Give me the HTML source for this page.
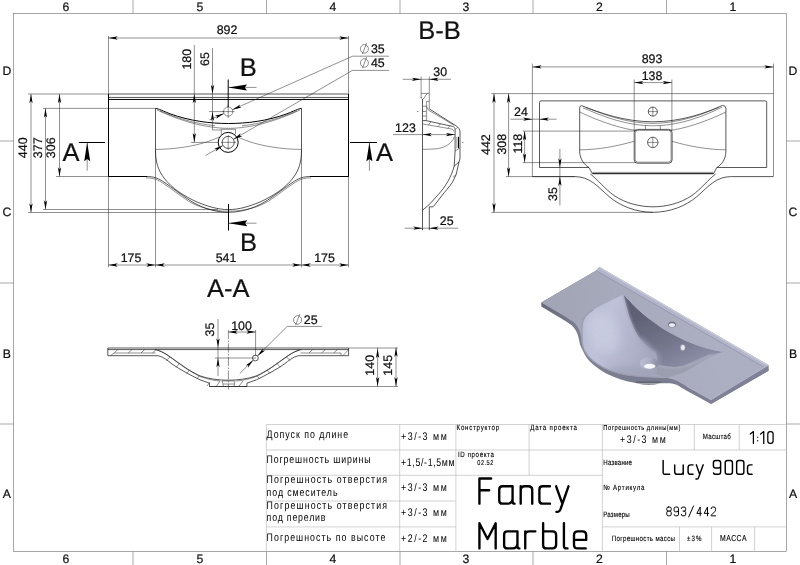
<!DOCTYPE html>
<html><head><meta charset="utf-8"><title>Lucy 900c</title>
<style>
html,body{margin:0;padding:0;background:#fff;}
svg{display:block;font-family:"Liberation Sans",sans-serif;will-change:transform;text-rendering:geometricPrecision;}
.t{stroke:#222;stroke-width:.5;fill:none}
.g{stroke:#b4b4b4;stroke-width:.6;fill:none}
.fr{stroke:#6e6e6e;stroke-width:.6;fill:none}
.c{stroke:#111;stroke-width:.7;fill:none}
.k{stroke:#000;stroke-width:1;fill:none}
.a{fill:#000;stroke:none}
text{fill:#111;stroke:#111;stroke-width:.22px}
.gs{font-family:"Liberation Sans",sans-serif;fill:#000;stroke:none}
.gs2{font-family:"Liberation Sans",sans-serif;fill:#000;stroke:#000;stroke-width:.12px}
.mono{fill:none;stroke:#000;stroke-linecap:round;stroke-linejoin:round}
</style></head><body>
<svg width="800" height="565" viewBox="0 0 800 565">
<rect x="0" y="0" width="800" height="565" fill="#fff"/>
<g id="frame">
<rect class="fr" x="13.5" y="13.5" width="773" height="538"/>
<path class="fr" d="M133,0L133,13.5"/>
<path class="fr" d="M133,551.5L133,565"/>
<path class="fr" d="M266.5,0L266.5,13.5"/>
<path class="fr" d="M266.5,551.5L266.5,565"/>
<path class="fr" d="M400,0L400,13.5"/>
<path class="fr" d="M400,551.5L400,565"/>
<path class="fr" d="M533,0L533,13.5"/>
<path class="fr" d="M533,551.5L533,565"/>
<path class="fr" d="M666.5,0L666.5,13.5"/>
<path class="fr" d="M666.5,551.5L666.5,565"/>
<path class="fr" d="M0,141L13.5,141"/>
<path class="fr" d="M786.5,141L800,141"/>
<path class="fr" d="M0,283L13.5,283"/>
<path class="fr" d="M786.5,283L800,283"/>
<path class="fr" d="M0,424L13.5,424"/>
<path class="fr" d="M786.5,424L800,424"/>
<text x="66" y="10.7" font-size="12.2" text-anchor="middle" >6</text>
<text x="66" y="562.6" font-size="12.2" text-anchor="middle" >6</text>
<text x="200" y="10.7" font-size="12.2" text-anchor="middle" >5</text>
<text x="200" y="562.6" font-size="12.2" text-anchor="middle" >5</text>
<text x="333" y="10.7" font-size="12.2" text-anchor="middle" >4</text>
<text x="333" y="562.6" font-size="12.2" text-anchor="middle" >4</text>
<text x="466" y="10.7" font-size="12.2" text-anchor="middle" >3</text>
<text x="466" y="562.6" font-size="12.2" text-anchor="middle" >3</text>
<text x="599.5" y="10.7" font-size="12.2" text-anchor="middle" >2</text>
<text x="599.5" y="562.6" font-size="12.2" text-anchor="middle" >2</text>
<text x="733" y="10.7" font-size="12.2" text-anchor="middle" >1</text>
<text x="733" y="562.6" font-size="12.2" text-anchor="middle" >1</text>
<text x="6.9" y="74.5" font-size="12.2" text-anchor="middle" >D</text>
<text x="793" y="74.5" font-size="12.2" text-anchor="middle" >D</text>
<text x="6.9" y="215.5" font-size="12.2" text-anchor="middle" >C</text>
<text x="793" y="215.5" font-size="12.2" text-anchor="middle" >C</text>
<text x="6.9" y="357.5" font-size="12.2" text-anchor="middle" >B</text>
<text x="793" y="357.5" font-size="12.2" text-anchor="middle" >B</text>
<text x="6.9" y="498.3" font-size="12.2" text-anchor="middle" >A</text>
<text x="793" y="498.3" font-size="12.2" text-anchor="middle" >A</text>
</g>
<g id="topview">
<path class="t" d="M28,94L108.5,94"/>
<path class="t" d="M43,108.4L155.5,108.4"/>
<path class="t" d="M56,176.5L108.5,176.5"/>
<path class="t" d="M43,209.5L218,209.5"/>
<path class="t" d="M28,212.5L228.5,212.5"/>
<path class="t" d="M108.5,176.5L108.5,267.3"/>
<path class="t" d="M155.5,150L155.5,267.3"/>
<path class="t" d="M301.5,150L301.5,267.3"/>
<path class="t" d="M348.5,176.5L348.5,267.3"/>
<path class="t" d="M108.5,36L108.5,94"/>
<path class="t" d="M348.5,36L348.5,94"/>
<path class="c" d="M108.5,94H348.5V176.5H311 M146,176.5H108.5V94" />
<path class="c" d="M146,176.5C154,176.5 158,178 165,182.8C172,187.5 180,194 189.5,200.2C198,205.7 212,212.3 228.5,212.3" />
<path class="c" d="M311,176.5C303,176.5 299,178 292,182.8C285,187.5 277,194 267.5,200.2C259,205.7 245,212.3 228.5,212.3" />
<path class="t" d="M146,177.9C153.5,177.9 157.5,179.4 164.3,184C171.3,188.7 179.3,195.2 188.8,201.3C197.5,206.6 211,211.2 228.5,211.2" />
<path class="t" d="M311,177.9C303.5,177.9 299.5,179.4 292.7,184C285.7,188.7 277.7,195.2 268.2,201.3C259.5,206.6 246,211.2 228.5,211.2" />
<path class="k" d="M310,176.5H348.5 M108.5,176.5H147" />
<path class="k" d="M108.5,94L108.5,176.5"/>
<path class="k" d="M348.5,94L348.5,176.5"/>
<path class="c" d="M108.5,97.45L348.5,97.45"/>
<path class="k" d="M108.5,99.45L348.5,99.45"/>
<path class="c" d="M155.5,108.4 V150 C155.5,162 158,170 164,178 C172,188.5 184,196 197,202 C208,206.5 218,209.6 228.5,209.6 C239,209.6 249,206.5 260,202 C273,196 285,188.5 293,178 C299,170 301.5,162 301.5,150 V108.4" />
<path class="k" d="M155.5,108.4 C157,108.4 160,109.6 170,113.8 C190,121 210,123.5 228.5,123.5 C247,123.5 267,121 287,113.8 C297,109.6 300,108.4 301.5,108.4" />
<path class="t" d="M157,110 C170,116 190,124 210,126.8 C218,128 222,128.3 228.5,128.3 C235,128.3 239,128 247,126.8 C267,124 287,116 300,110" />
<path class="t" d="M160,110.8 C175,117.5 195,123.8 215,125.7 M242,125.7 C262,123.8 282,117.5 297,110.8" />
<path class="t" d="M155.5,149.4 C175,149.4 195,146 208,141.5 C213,139.7 216,138.5 219.5,137" />
<path class="t" d="M301.5,149.4 C282,149.4 262,146 249,141.5 C244,139.7 241,138.5 237.5,137" />
<circle class="k" cx="228.2" cy="142.4" r="10"/>
<circle class="c" cx="228.2" cy="142.4" r="6.05"/>
<path class="t" d="M228.2,135L228.2,150"/>
<path class="t" d="M221,142.4L236,142.4"/>
<path class="t" d="M221.3,129.3V134.5 M235.5,129.3V134.5 M221.3,129.3H235.5" />
<circle class="t" cx="228.2" cy="111.6" r="4.6"/>
<path class="t" d="M222,111.6L234.5,111.6"/>
<path class="k" d="M228.2,79.5L228.2,107"/>
<path class="t" d="M228.2,105L228.2,118"/>
<path class="t" d="M228.2,87.4L256.5,87.4"/>
<polygon class="a" points="228.2,87.4 247,84.4 244.8,87.4 247,90.4"/>
<text x="248.3" y="75.5" font-size="25.5" text-anchor="middle"  stroke="none">B</text>
<path class="k" d="M228.5,204L228.5,230.5"/>
<path class="t" d="M228.5,223.2L256.5,223.2"/>
<polygon class="a" points="228.5,223.2 247.3,220.2 245.1,223.2 247.3,226.2"/>
<text x="248.5" y="250.7" font-size="25.5" text-anchor="middle"  stroke="none">B</text>
<path class="k" d="M78.75,142.5L105,142.5"/>
<path class="t" d="M87.2,143L87.2,170.7"/>
<polygon class="a" points="87.2,142.5 90.2,161.3 87.2,159.1 84.2,161.3"/>
<text x="71" y="161.3" font-size="25.5" text-anchor="middle"  stroke="none">A</text>
<path class="k" d="M350.1,142.5L377,142.5"/>
<path class="t" d="M369.4,143L369.4,170.8"/>
<polygon class="a" points="369.4,142.5 372.4,161.3 369.4,159.1 366.4,161.3"/>
<text x="384.4" y="160.9" font-size="25.5" text-anchor="middle"  stroke="none">A</text>
<path class="t" d="M108.5,38L348.5,38"/>
<polygon class="a" points="108.5,38 117.8,36.35 115.6,38 117.8,39.65"/>
<polygon class="a" points="348.5,38 339.2,39.65 341.4,38 339.2,36.35"/>
<text x="227" y="34.3" font-size="12.4" text-anchor="middle" >892</text>
<path class="t" d="M194.3,45L194.3,142.4"/>
<polygon class="a" points="194.3,94 195.95,103.3 194.3,101.1 192.65,103.3"/>
<polygon class="a" points="194.3,142.4 192.65,133.1 194.3,135.3 195.95,133.1"/>
<path class="t" d="M191,142.4L219,142.4"/>
<text x="191" y="59.2" font-size="12.4" text-anchor="middle" transform="rotate(-90 191 59.2)" >180</text>
<path class="t" d="M212.5,48L212.5,130"/>
<polygon class="a" points="212.5,94 210.85,84.7 212.5,86.9 214.15,84.7"/>
<polygon class="a" points="212.5,111.6 214.15,120.9 212.5,118.7 210.85,120.9"/>
<path class="t" d="M209,111.6L224,111.6"/>
<path class="t" d="M212.5,130L221.3,130"/>
<text x="209.3" y="59" font-size="12.4" text-anchor="middle" transform="rotate(-90 209.3 59)" >65</text>
<path class="t" d="M31,94L31,212.5"/>
<polygon class="a" points="31,94 32.65,103.3 31,101.1 29.35,103.3"/>
<polygon class="a" points="31,212.5 29.35,203.2 31,205.4 32.65,203.2"/>
<path class="t" d="M45.5,108.4L45.5,209.5"/>
<polygon class="a" points="45.5,108.4 47.15,117.7 45.5,115.5 43.85,117.7"/>
<polygon class="a" points="45.5,209.5 43.85,200.2 45.5,202.4 47.15,200.2"/>
<path class="t" d="M59.5,94L59.5,176.5"/>
<polygon class="a" points="59.5,94 61.15,103.3 59.5,101.1 57.85,103.3"/>
<polygon class="a" points="59.5,176.5 57.85,167.2 59.5,169.4 61.15,167.2"/>
<text x="27.5" y="147.8" font-size="12.4" text-anchor="middle" transform="rotate(-90 27.5 147.8)" >440</text>
<text x="41.8" y="147.8" font-size="12.4" text-anchor="middle" transform="rotate(-90 41.8 147.8)" >377</text>
<text x="55.5" y="147.8" font-size="12.4" text-anchor="middle" transform="rotate(-90 55.5 147.8)" >306</text>
<path class="t" d="M108.5,265L348.5,265"/>
<polygon class="a" points="108.5,265 117.8,263.35 115.6,265 117.8,266.65"/>
<polygon class="a" points="155.5,265 146.2,266.65 148.4,265 146.2,263.35"/>
<polygon class="a" points="155.5,265 164.8,263.35 162.6,265 164.8,266.65"/>
<polygon class="a" points="301.5,265 292.2,266.65 294.4,265 292.2,263.35"/>
<polygon class="a" points="301.5,265 310.8,263.35 308.6,265 310.8,266.65"/>
<polygon class="a" points="348.5,265 339.2,266.65 341.4,265 339.2,263.35"/>
<text x="131" y="261.8" font-size="12.4" text-anchor="middle" >175</text>
<text x="226" y="261.8" font-size="12.4" text-anchor="middle" >541</text>
<text x="324.5" y="261.8" font-size="12.4" text-anchor="middle" >175</text>
<path class="t" d="M209.38,119.99L224,113.47"/>
<path class="t" d="M232.4,109.73L352.5,56.2"/>
<polygon class="a" points="232.4,109.73 240.22,104.43 238.89,106.84 241.57,107.45"/>
<polygon class="a" points="224,113.47 216.18,118.77 217.51,116.36 214.83,115.75"/>
<path class="t" d="M205.66,155.46L222.96,145.43"/>
<path class="t" d="M233.44,139.37L352.5,70.4"/>
<polygon class="a" points="233.44,139.37 240.66,133.28 239.58,135.81 242.31,136.13"/>
<polygon class="a" points="222.96,145.43 215.74,151.52 216.82,148.99 214.09,148.67"/>
<path class="t" d="M352.5,56.2L389,56.2"/>
<path class="t" d="M352.5,70.4L389,70.4"/>
<ellipse class="t" cx="364.4" cy="48.85" rx="4" ry="4.3"/>
<path class="t" d="M362.4,54.05L366.6,42.95"/>
<text x="370.9" y="52.5" font-size="12.4" text-anchor="start" >35</text>
<ellipse class="t" cx="364.4" cy="62.95" rx="4" ry="4.3"/>
<path class="t" d="M362.4,68.15L366.6,57.05"/>
<text x="370.9" y="66.6" font-size="12.4" text-anchor="start" >45</text>
<text x="439.5" y="39" font-size="25.5" text-anchor="middle"  stroke="none">B-B</text>
<text x="228.3" y="297" font-size="25.5" text-anchor="middle"  stroke="none">A-A</text>
</g>
<g id="bb">
<path class="t" d="M402.7,79.3L451,79.3"/>
<path class="t" d="M421.1,76.5L421.1,98"/>
<path class="t" d="M429.3,76.5L429.3,108.9"/>
<polygon class="a" points="421.1,79.3 411.8,80.95 414,79.3 411.8,77.65"/>
<polygon class="a" points="429.3,79.3 438.6,77.65 436.4,79.3 438.6,80.95"/>
<text x="440.2" y="76.2" font-size="12.4" text-anchor="middle" >30</text>
<path class="t" d="M421.1,93.4H429.3 M427.3,93.4L423.3,99 M421.1,97C421.3,98.4 422,99 422.8,99.4" />
<path class="c" d="M422.5,99L422.5,230.2"/>
<path class="t" d="M426.4,101.4V120.4 M426.4,101.4H429.3 M422.8,106.2H426.4 M422.8,111.5H426.4 M422.8,116H426.4" />
<path class="g" d="M426.9,104V119" />
<path class="c" d="M429.3,108.9L456,125.8C458.5,127.4 460,129.3 460,132V159" />
<path class="t" d="M426.4,106.2L428.6,110.2L454.2,125.3" />
<path class="c" d="M422.8,120.6H426L452.5,126.4C454.3,126.9 455.1,128 455.1,129.7V151L454.2,166" />
<path class="t" d="M422.8,124L451.5,129 C453,129.4 453.6,130.2 453.6,131.5" />
<path class="t" d="M431,121.7L428.5,125 M440.5,123.8L438,126.6 M450,126L447.5,128.4 M457.6,127.2L455.3,129.5" />
<path class="k" d="M458.5,136.8L458.5,148.3"/>
<path class="t" d="M462,142.6L463.4,142.6"/>
<path class="t" d="M417,111.5L418.4,111.5"/>
<path class="t" d="M455.1,151L459.8,148"/>
<path class="t" d="M456.9,136.8V148.3" />
<path class="t" d="M422.5,149.3C436,149.3 441,148.6 446,146C450.5,143.5 453,140.5 454.4,136.6" />
<path class="t" d="M393,134.6L455.1,134.6"/>
<polygon class="a" points="422.5,134.6 431.8,132.95 429.6,134.6 431.8,136.25"/>
<polygon class="a" points="455.1,134.6 445.8,136.25 448,134.6 445.8,132.95"/>
<text x="415.8" y="131.6" font-size="12.4" text-anchor="end" >123</text>
<path class="c" d="M460,159L459,162L454.2,166C451,178 445,187 438.6,194.2L428.9,204.9L422.5,210.2" />
<path class="c" d="M459,162L456.1,174.7L452.3,182.5C449,187 447,189.5 444.5,192.3L434.7,204.9L433,206.8H429.3" />
<path class="t" d="M456.1,174.7L453,177.2" />
<path class="c" d="M429.3,206.8L429.3,230.2"/>
<path class="t" d="M404.6,228.2L458,228.2"/>
<polygon class="a" points="422.5,228.2 413.2,229.85 415.4,228.2 413.2,226.55"/>
<polygon class="a" points="429.3,228.2 438.6,226.55 436.4,228.2 438.6,229.85"/>
<text x="446.7" y="225.3" font-size="12.4" text-anchor="middle" >25</text>
</g>
<g id="rv">
<path class="t" d="M491.3,93.6L773.5,93.6"/>
<path class="t" d="M491.3,212.4L653,212.4"/>
<path class="t" d="M505.9,176.6L575,176.6"/>
<path class="t" d="M522.8,131.1L635,131.1"/>
<path class="t" d="M522.8,162.6L635,162.6"/>
<path class="t" d="M532.4,63.6L532.4,176.6"/>
<path class="t" d="M773.5,63.6L773.5,176.3"/>
<path class="t" d="M634.2,79.5L634.2,131"/>
<path class="t" d="M671.9,79.5L671.9,131"/>
<path class="t" d="M532.4,66.9L773.5,66.9"/>
<polygon class="a" points="532.4,66.9 541.7,65.25 539.5,66.9 541.7,68.55"/>
<polygon class="a" points="773.5,66.9 764.2,68.55 766.4,66.9 764.2,65.25"/>
<text x="652" y="63.2" font-size="12.4" text-anchor="middle" >893</text>
<path class="t" d="M634.2,82.6L671.9,82.6"/>
<polygon class="a" points="634.2,82.6 643.5,80.95 641.3,82.6 643.5,84.25"/>
<polygon class="a" points="671.9,82.6 662.6,84.25 664.8,82.6 662.6,80.95"/>
<text x="652" y="80" font-size="12.4" text-anchor="middle" >138</text>
<path class="t" d="M494,93.6L494,212.4"/>
<polygon class="a" points="494,93.6 495.65,102.9 494,100.7 492.35,102.9"/>
<polygon class="a" points="494,212.4 492.35,203.1 494,205.3 495.65,203.1"/>
<path class="t" d="M508.6,93.6L508.6,176.6"/>
<polygon class="a" points="508.6,93.6 510.25,102.9 508.6,100.7 506.95,102.9"/>
<polygon class="a" points="508.6,176.6 506.95,167.3 508.6,169.5 510.25,167.3"/>
<path class="t" d="M524.6,131.1L524.6,162.6"/>
<polygon class="a" points="524.6,131.1 526.25,140.4 524.6,138.2 522.95,140.4"/>
<polygon class="a" points="524.6,162.6 522.95,153.3 524.6,155.5 526.25,153.3"/>
<text x="490.3" y="144.6" font-size="12.4" text-anchor="middle" transform="rotate(-90 490.3 144.6)" >442</text>
<text x="506" y="144.2" font-size="12.4" text-anchor="middle" transform="rotate(-90 506 144.2)" >308</text>
<text x="521.6" y="143.6" font-size="12.4" text-anchor="middle" transform="rotate(-90 521.6 143.6)" >118</text>
<path class="t" d="M510.4,119.2L556.5,119.2"/>
<polygon class="a" points="532.4,119.2 523.1,120.85 525.3,119.2 523.1,117.55"/>
<polygon class="a" points="539.6,119.2 548.9,117.55 546.7,119.2 548.9,120.85"/>
<text x="521" y="116" font-size="12.4" text-anchor="middle" >24</text>
<path class="t" d="M559.9,149L559.9,205.4"/>
<polygon class="a" points="559.9,167.6 558.25,158.3 559.9,160.5 561.55,158.3"/>
<polygon class="a" points="559.9,176.6 561.55,185.9 559.9,183.7 558.25,185.9"/>
<text x="556.5" y="194" font-size="12.4" text-anchor="middle" transform="rotate(-90 556.5 194)" >35</text>
<path class="c" d="M541.1,100.9H765.2Q766.7,100.9 766.7,102.4V167.5H716.8L713.4,173.9 M592.5,173.9L589,167.5H539.5V102.4Q539.5,100.9 541.1,100.9" />
<path class="k" d="M592.5,173.7L713.4,173.7"/>
<path class="t" d="M592.5,172.4L713.4,172.4"/>
<path class="c" d="M532.4,176.6H574.5C590,176.6 597,186 609,196.5C620,206 636,212.3 653,212.3C670,212.3 686,206 697,196.5C709,186 716,176.6 731.5,176.6H773.5" />
<path class="c" d="M590.3,173.9C598,180 604,188 614,195.5C626,203.5 640,206.8 653,206.8C666,206.8 680,203.5 692,195.5C702,188 708,180 715.7,173.9" />
<path class="c" d="M579.7,107.7Q579.7,105.7 581.7,105.7 M579.7,107.7V152C580,159 584,164.5 589,167.6 M716.8,167.6C722,164.5 725.6,159 725.9,152V108.2Q725.9,105.7 722.5,105.4" />
<path class="c" d="M581.7,105.7C600,113 625,121.8 653,121.8C681,121.8 706,113 722.5,105.4" />
<path class="t" d="M583,107.8C602,116 626,125.8 653,125.8C680,125.8 704,116 722,107.2" />
<path class="t" d="M586,107.4C604,114.5 627,123.4 653,123.4C679,123.4 702,114.5 719,107.2" />
<path class="t" d="M579.7,112C600,122 625,129.6 637,130.5 M669,130.5C681,129.6 706,122 725.9,112" />
<path class="t" d="M579.7,149.8C598,149.8 618,146 634,141.3 M725.9,149.8C708,149.8 688,146 672,141.3" />
<rect class="c" x="634.2" y="129.4" width="37.9" height="33.8" rx="3.4"/>
<rect class="t" x="635.2" y="130.4" width="35.9" height="31.8" rx="2.8"/>
<path class="t" d="M645.5,125.5V129.4 M660.3,125.5V129.4" />
<circle class="c" cx="652.8" cy="111.6" r="4.5"/>
<path class="t" d="M648.3,111.6L657.3,111.6"/>
<path class="t" d="M652.8,107.1L652.8,116.1"/>
<circle class="c" cx="652.8" cy="142.4" r="5.2"/>
<path class="t" d="M647.6,142.4L658,142.4"/>
<path class="t" d="M652.8,137.2L652.8,147.6"/>
</g>
<g id="aa">
<path class="c" d="M107.8,348L348.5,348"/>
<path class="t" d="M348.5,348L398,348"/>
<path class="c" d="M107.8,349.6L348.5,349.6"/>
<path class="t" d="M209.5,386.5L398,386.5"/>
<path class="c" d="M107.8,348L107.8,355.7 158,355.7C164,357 168,361 172,364C180,369.5 190,375 200,379.8L209.5,383.2 209.5,386.5 228.2,386.5" />
<path class="c" d="M348.6,348L348.6,355.7 298.4,355.7C292.4,357 288.4,361 284.4,364C276.4,369.5 266.4,375 256.4,379.8L246.9,383.2 246.9,386.5 228.2,386.5" />
<path class="c" d="M155.2,349.6C160,350.5 164,353 168,355.4C174,359.5 180,364 185,367.4C192,372 197,374.5 200,375.9C209,379 219,380.2 228.2,380.2" />
<path class="c" d="M301.2,349.6C296.4,350.5 292.4,353 288.4,355.4C282.4,359.5 276.4,364 271.4,367.4C264.4,372 259.4,374.5 256.4,375.9C247.4,379 237.4,380.2 228.2,380.2" />
<path class="t" d="M157.5,350.2C162,351.5 166,354 169.5,356.6C175,360.5 181,365 186,368.4C193,373 198,375.5 201,376.9C209,379.6 215,380.6 220,381" />
<path class="t" d="M298.9,350.2C294.4,351.5 290.4,354 286.9,356.6C281.4,360.5 275.4,365 270.4,368.4C263.4,373 258.4,375.5 255.4,376.9C247.4,379.6 241.4,380.6 236.4,381" />
<path class="t" d="M110.5,355.7L114,353H155.5 M341,353H300.5 M341,353V355.5 M343,355.5L348.5,349.8" />
<path class="t" d="M114.2,353L117.7,349.7M128.3,353L131.8,349.7M141,353L144.5,349.7M152.5,353L156,349.7M308.9,353L312.4,349.7M321.6,353L325.1,349.7M333.7,353L337.2,349.7" />
<path class="t" d="M166,360.6L170,357M290.4,360.6L286.4,357M176,367.3L179.5,363.4M280.4,367.3L276.9,363.4M186.5,373.4L189.5,370M269.9,373.4L266.9,370M197,378.6L199.5,375.6M259.4,378.6L256.9,375.6" />
<path class="t" d="M222,381H235 M222,381L223.5,386.4 M235,381L234,386.4 M223,384H234.6" />
<path class="t" d="M216.5,386.2L220,381 M239,386.2L243,381 M207,386L210,382" />
<path class="t" d="M228.4,330V389.5" stroke-dasharray="9 1.5 1.5 1.5"/>
<path class="t" d="M218,319L218,376"/>
<polygon class="a" points="218,347.6 216.35,338.3 218,340.5 219.65,338.3"/>
<polygon class="a" points="218,358 219.65,367.3 218,365.1 216.35,367.3"/>
<path class="t" d="M215,358L256,358"/>
<text x="214.5" y="329.6" font-size="12.4" text-anchor="middle" transform="rotate(-90 214.5 329.6)" >35</text>
<path class="t" d="M228.4,332L255.6,332"/>
<polygon class="a" points="228.4,332 237.7,330.35 235.5,332 237.7,333.65"/>
<polygon class="a" points="255.6,332 246.3,333.65 248.5,332 246.3,330.35"/>
<path class="t" d="M255.6,330L255.6,356"/>
<text x="241.5" y="329.6" font-size="12.4" text-anchor="middle" >100</text>
<circle class="c" cx="255.4" cy="358" r="2.9"/>
<path class="t" d="M239.79,373.51L253.34,360.04"/>
<path class="t" d="M257.46,355.96L287.2,326.4"/>
<path class="t" d="M287.2,326.4L322,326.4"/>
<polygon class="a" points="257.46,355.96 262.89,348.23 262.49,350.95 265.22,350.57"/>
<polygon class="a" points="253.34,360.04 247.91,367.77 248.31,365.05 245.58,365.43"/>
<ellipse class="t" cx="297.6" cy="319.95" rx="4" ry="4.3"/>
<path class="t" d="M295.6,325.15L299.8,314.05"/>
<text x="303.8" y="323.6" font-size="12.4" text-anchor="start" >25</text>
<path class="t" d="M377.6,347.6L377.6,386.4"/>
<polygon class="a" points="377.6,348.8 379.25,358.1 377.6,355.9 375.95,358.1"/>
<polygon class="a" points="377.6,386.4 375.95,377.1 377.6,379.3 379.25,377.1"/>
<path class="t" d="M396,347.6L396,386.4"/>
<polygon class="a" points="396,347.6 397.65,356.9 396,354.7 394.35,356.9"/>
<polygon class="a" points="396,386.4 394.35,377.1 396,379.3 397.65,377.1"/>
<text x="374.3" y="365.3" font-size="12.4" text-anchor="middle" transform="rotate(-90 374.3 365.3)" >140</text>
<text x="391.8" y="365.3" font-size="12.4" text-anchor="middle" transform="rotate(-90 391.8 365.3)" >145</text>
</g>
<g id="tb">
<path class="g" d="M266.4,424.5L455.9,424.5"/>
<path class="g" d="M266.4,450L455.9,450"/>
<path class="g" d="M266.4,475.3L455.9,475.3"/>
<path class="g" d="M266.4,501L455.9,501"/>
<path class="g" d="M266.4,526.9L455.9,526.9"/>
<path class="g" d="M266.4,424.5L266.4,551.5"/>
<path class="g" d="M399.7,424.5L399.7,551.5"/>
<path class="g" d="M455.9,424.5L455.9,551.5"/>
<path class="g" d="M455.9,424.5L786.5,424.5"/>
<path class="g" d="M455.9,450L786.5,450"/>
<path class="g" d="M455.9,475.3L602.4,475.3"/>
<path class="g" d="M529.1,424.5L529.1,475.3"/>
<path class="g" d="M602.4,424.5L602.4,551.5"/>
<path class="g" d="M694.3,424.5L694.3,450"/>
<path class="g" d="M739.2,424.5L739.2,450"/>
<path class="g" d="M602.4,526.9L786.5,526.9"/>
<path class="g" d="M679.5,526.9L679.5,551.5"/>
<path class="g" d="M711.6,526.9L711.6,551.5"/>
<path class="g" d="M754.6,526.9L754.6,551.5"/>
<text class="gs" transform="translate(266.6 437.6) scale(0.8 1)" font-size="11" textLength="101.88" text-anchor="start" >Допуск по длине</text>
<text class="gs" transform="translate(266.6 462.7) scale(0.8 1)" font-size="11" textLength="130.00" text-anchor="start" >Погрешность ширины</text>
<text class="gs" transform="translate(266.6 483.3) scale(0.8 1)" font-size="11" textLength="150.62" text-anchor="start" >Погрешность отверстия</text>
<text class="gs" transform="translate(266.6 495.6) scale(0.8 1)" font-size="11" textLength="88.62" text-anchor="start" >под смеситель</text>
<text class="gs" transform="translate(266.6 509) scale(0.8 1)" font-size="11" textLength="150.62" text-anchor="start" >Погрешность отверстия</text>
<text class="gs" transform="translate(266.6 521.3) scale(0.8 1)" font-size="11" textLength="73.62" text-anchor="start" >под перелив</text>
<text class="gs" transform="translate(266.6 541) scale(0.8 1)" font-size="11" textLength="148.38" text-anchor="start" >Погрешность по высоте</text>
<text class="gs" transform="translate(401 439.5) scale(0.8 1)" font-size="11" textLength="57.12" text-anchor="start" >+3/-3 мм</text>
<text class="gs" transform="translate(401 465.5) scale(0.8 1)" font-size="11" textLength="67.00" text-anchor="start" >+1,5/-1,5мм</text>
<text class="gs" transform="translate(401 490.5) scale(0.8 1)" font-size="11" textLength="57.12" text-anchor="start" >+3/-3 мм</text>
<text class="gs" transform="translate(401 516) scale(0.8 1)" font-size="11" textLength="57.12" text-anchor="start" >+3/-3 мм</text>
<text class="gs" transform="translate(401 542) scale(0.8 1)" font-size="11" textLength="57.12" text-anchor="start" >+2/-2 мм</text>
<text class="gs2" transform="translate(456.6 429.8) scale(0.8 1)" font-size="7.7" textLength="53.12" text-anchor="start" >Конструктор</text>
<text class="gs2" transform="translate(530.2 429.8) scale(0.8 1)" font-size="7.7" textLength="58.38" text-anchor="start" >Дата проекта</text>
<text class="gs2" transform="translate(458 456.8) scale(0.8 1)" font-size="7.7" textLength="44.75" text-anchor="start" >ID проекта</text>
<text class="gs2" transform="translate(477.3 464.6) scale(0.8 1)" font-size="7" textLength="20.00" text-anchor="start" >02.52</text>
<text class="gs2" transform="translate(603.3 429.6) scale(0.8 1)" font-size="7.2" textLength="96.25" text-anchor="start" >Погрешность длины(мм)</text>
<text class="gs" transform="translate(620 443) scale(0.8 1)" font-size="11" textLength="57.12" text-anchor="start" >+3/-3 мм</text>
<text class="gs2" transform="translate(702.8 439) scale(0.8 1)" font-size="7.7" textLength="34.87" text-anchor="start" >Масштаб</text>
<text class="gs2" transform="translate(603.3 465.4) scale(0.8 1)" font-size="7.7" textLength="35.88" text-anchor="start" >Название</text>
<text class="gs2" transform="translate(603.3 490.2) scale(0.8 1)" font-size="7.7" textLength="51.38" text-anchor="start" >№ Артикула</text>
<text class="gs2" transform="translate(603.3 517.3) scale(0.8 1)" font-size="7.7" textLength="33.12" text-anchor="start" >Размеры</text>
<text class="gs2" transform="translate(611.8 541.2) scale(0.8 1)" font-size="7.7" textLength="79.00" text-anchor="start" >Погрешность массы</text>
<text class="gs2" transform="translate(686.9 541.2) scale(0.8 1)" font-size="7.7" textLength="18.25" text-anchor="start" >±3%</text>
<text class="gs2" transform="translate(720 541.2) scale(0.8 1)" font-size="8.6" textLength="33.12" text-anchor="start" >МАССА</text>
</g>
<g transform="translate(470 472) scale(0.16250)"><path class="mono" stroke-width="14.5" d="M58,195V40H130 M58,112H118 M262,88H200Q180,88 180,108V175Q180,195 200,195H232Q262,195 262,162 M262,88V183Q262,195 274,195 M312,88V195 M312,112Q312,88 337,88H358Q383,88 383,112V195 M492,88H447Q427,88 427,108V175Q427,195 447,195H492 M530,88L568,195 M606,88L556,232Q551,245 540,245H532 M58,470V315L108,412L158,315V470 M292,365H230Q210,365 210,385V450Q210,470 230,470H262Q292,470 292,438 M292,365V458Q292,470 304,470 M340,365V470 M340,390Q340,365 365,365H402 M450,315V450Q450,470 470,470H508Q530,470 530,448V387Q530,365 508,365H450 M578,315V455Q578,470 593,470H600 M640,418H715V388Q715,365 692,365H663Q640,365 640,388V447Q640,470 663,470H712 " /></g>
<g transform="translate(655 452) scale(0.13125)"><path class="mono" stroke-width="11" d="M62,65V158Q62,170 74,170H112 M150,98V150Q150,170 170,170H195Q215,170 215,150 M215,98V170 M290,98H272Q252,98 252,118V150Q252,170 272,170H290 M315,98L341,172 M367,98L330,200Q327,206 318,206H312 M500,105Q500,122 483,122H462Q445,122 445,105V82Q445,65 462,65H483Q500,65 500,82V153Q500,170 483,170H462Q448,170 446,160 M552,65H573Q590,65 590,82V153Q590,170 573,170H552Q535,170 535,153V82Q535,65 552,65Z M639,65H660Q677,65 677,82V153Q677,170 660,170H639Q622,170 622,153V82Q622,65 639,65Z M740,98H725Q705,98 705,118V150Q705,170 725,170H740 " /></g>
<g transform="translate(0 0) scale(1.00000)"><path class="mono" stroke-width="1.25" d="M750.3,434.1L753.4,431.6V443.4 M760.6,434.1L763.75,431.6V443.4 M770.2,431.5H770.7Q773.1,431.5 773.1,433.9V441Q773.1,443.4 770.7,443.4H770.2Q767.8,443.4 767.8,441V433.9Q767.8,431.5 770.2,431.5Z M757.7,437V437.2 M757.7,440.6V440.8" /></g>
<g transform="translate(666.79 515.84) scale(0.88)"><path class="mono" stroke-width="1.136" d="M1.8,-10H3.2Q5,-10 5,-8.4V-7Q5,-5.4 3.4,-5.4H1.6Q0,-5.4 0,-7V-8.4Q0,-10 1.8,-10Z M1.6,-5.4Q0,-5.4 0,-3.8V-1.8Q0,0 1.8,0H3.2Q5,0 5,-1.8V-3.8Q5,-5.4 3.4,-5.4"/></g>
<g transform="translate(674.1 515.84) scale(0.88)"><path class="mono" stroke-width="1.136" d="M5,-6.2Q5,-4.6 3.2,-4.6H1.8Q0,-4.6 0,-6.2V-8.2Q0,-10 1.8,-10H3.2Q5,-10 5,-8.2V-1.8Q5,0 3.2,0H1.8Q0,0 0,-1.4"/></g>
<g transform="translate(681.25 515.84) scale(0.88)"><path class="mono" stroke-width="1.136" d="M0,-8.4Q0,-10 1.8,-10H3.2Q5,-10 5,-8.2V-7Q5,-5.4 3.4,-5.4H2 M3.4,-5.4Q5,-5.4 5,-3.8V-1.8Q5,0 3.2,0H1.8Q0,0 0,-1.6"/></g>
<g transform="translate(688.72 515.84) scale(0.88)"><path class="mono" stroke-width="1.136" d="M0,1.2L5.4,-11.2"/></g>
<g transform="translate(696.85 515.84) scale(0.88)"><path class="mono" stroke-width="1.136" d="M3.8,0V-10L0,-2.8H5.2"/></g>
<g transform="translate(704.16 515.84) scale(0.88)"><path class="mono" stroke-width="1.136" d="M3.8,0V-10L0,-2.8H5.2"/></g>
<g transform="translate(711.15 515.84) scale(0.88)"><path class="mono" stroke-width="1.136" d="M0,-8.2Q0,-10 1.8,-10H3.2Q5,-10 5,-8.2V-6.9Q5,-5.7 4,-4.7L0.3,-1Q0,-0.6 0,0H5"/></g>
<defs>
<filter id="bl" x="-5%" y="-5%" width="110%" height="110%"><feGaussianBlur stdDeviation="0.4"/></filter>
<filter id="bl2" x="-40%" y="-40%" width="180%" height="180%"><feGaussianBlur stdDeviation="5"/></filter>
<filter id="bl3" x="-20%" y="-20%" width="140%" height="140%"><feGaussianBlur stdDeviation="1"/></filter>
<filter id="bl4" x="-30%" y="-30%" width="160%" height="160%"><feGaussianBlur stdDeviation="2.5"/></filter>
<linearGradient id="gTop" gradientUnits="userSpaceOnUse" x1="560" y1="330" x2="700" y2="290"><stop offset="0" stop-color="#a2a5b6"/><stop offset="1" stop-color="#acafc1"/></linearGradient>
<linearGradient id="gDark" gradientUnits="userSpaceOnUse" x1="646" y1="310" x2="674" y2="370"><stop offset="0" stop-color="#5e6075"/><stop offset="0.6" stop-color="#74768c"/><stop offset="1" stop-color="#8a8ca4"/></linearGradient>
<linearGradient id="gWall" gradientUnits="userSpaceOnUse" x1="583" y1="318" x2="655" y2="345"><stop offset="0" stop-color="#b8bbd2"/><stop offset="0.3" stop-color="#bfc2d9"/><stop offset="0.75" stop-color="#afb2c9"/><stop offset="1" stop-color="#a5a8be"/></linearGradient>
<linearGradient id="gApr" gradientUnits="userSpaceOnUse" x1="541" y1="305" x2="700" y2="395"><stop offset="0" stop-color="#686a7b"/><stop offset="0.25" stop-color="#7c7e91"/><stop offset="0.7" stop-color="#7a7c8f"/><stop offset="1" stop-color="#7c7e93"/></linearGradient>
<linearGradient id="gDrain" gradientUnits="userSpaceOnUse" x1="640" y1="362" x2="659" y2="364"><stop offset="0" stop-color="#bbbed4"/><stop offset="0.5" stop-color="#abaec4"/><stop offset="1" stop-color="#878a9a"/></linearGradient>
<clipPath id="cpBowl"><path d="M623.6,294.4C616,298 600,305.5 593.5,309.6C590,311.8 588,313.6 586.4,315.4C584.5,317.5 583.5,319.5 582.9,321.5C582.2,324.5 582,327.5 582,330.4C582,335.5 582.2,340.5 582.6,345C583.2,349 585.5,353 588,356C590.5,359 594,362 598,364.5C602,367 606,369 610,370.5C615,372.5 620,373.8 625,374.7C631,375.6 638,376.3 645,376.6C650,376.9 655,377.2 660,377.6L667,378.1C671,376.5 673,376 675,375.3C679,374 683,372.7 686.3,371.4C690,369.5 694,367 697.5,364.6C701,362.3 705,360 708.8,357.9C713,355.5 718,353.5 724.5,351.8C715,351 700,347 686.5,341.2C678,337.5 668,332 661,327.6C654,322.5 648,318 644,314.8C636,308 629,300.5 623.6,294.4Z"/></clipPath>
</defs>
<g id="r3d" filter="url(#bl)">
<path d="M599.4,267L768.3,365L768.6,370.8L711,404L686.3,390.5C683,388.5 680,386.5 677.3,384.9C674,383.6 670,383.2 667,383.2H636.8C631,382.2 623,380.5 616.7,378C610,375.5 604,372.5 599.7,369.5C594,365.5 590,362 587,358C584.5,354.5 582.5,350 580.2,345C579.5,342 579,340 578.5,337.5C578,335 577,332.5 575.8,330.4C574.5,328.3 573,326.5 571.4,325.1C569,323.3 566,321.3 562.5,319.3L541.3,306.5V302.5L596.2,270.5Z" fill="url(#gApr)"/>
<path d="M637,383.6C645,385.3 653,385.3 660,383.6Z" fill="#646671"/>
<path d="M636,382.2H661" stroke="#646671" stroke-width="1.6" fill="none"/>
<path d="M768.3,365L768.6,370.8L711,404V399.6Z" fill="#7e8197"/>
<path d="M596.2,270.5L599.4,267L768.3,365L711,399.6L686.3,386C683,384.3 680,382.5 677.3,381C674,379.5 670,378.6 667,378.1L660,377.6C655,377.2 650,376.9 645,376.6C638,376.3 631,375.6 625,374.7C620,373.8 615,372.5 610,370.5C606,369 602,367 598,364.5C594,362 590.5,359 588,356C585.5,353 583.2,349 582,345C581.5,342.5 581.3,340 581.1,337.5C580.8,335 580.3,332.5 579.4,330.4C578.5,328 577.3,326 575.8,324.2C574.5,322.8 573,321.7 571.4,320.7C569,319 566,317 562.5,314.9L541.3,302.5Z" fill="url(#gTop)"/>
<path d="M768,365.4L711,399.7L686.3,386" stroke="#bfc2cf" stroke-width=".8" fill="none"/>
<path d="M599.4,267L768.3,365L763.6,367L596.2,270.5Z" fill="#b3b6ca"/>
<path d="M599.6,267.5L768,365.3" stroke="#c8cbd9" stroke-width="1.3" fill="none"/>
<path d="M596.2,270.6L763.4,366.9" stroke="#989bb0" stroke-width="1" fill="none"/>
<g clip-path="url(#cpBowl)">
<rect x="575" y="290" width="160" height="95" fill="url(#gWall)"/>
<ellipse cx="603" cy="332" rx="15" ry="22" fill="#cacde1" opacity=".8" filter="url(#bl2)" transform="rotate(-28 603 332)"/>
<path d="M600,372C620,380 650,380 668,378L660,366L620,366Z" fill="#a1a4b8" opacity=".7" filter="url(#bl4)"/>
<path d="M724.5,351.8C718,353.5 713,355.5 708.8,357.9C705,360 701,362.3 697.5,364.6C694,367 690,369.5 686.3,371.4C683,372.7 679,374 675,375.3L667,378.1L656,374L658,364.6C664,366 670,366.9 675,366.9C679,366.7 683,366 686.3,364.6C690,363 694,361.5 697.5,359.6C701,357.8 705,356 708.8,354.5Z" fill="#9b9eaf"/>
<path d="M660,366C668,367.8 676,368 686.3,366C694,363.5 702,359.5 712,354.8" stroke="#abaec1" stroke-width="1.6" fill="none" filter="url(#bl3)"/>
<path d="M623.6,294.4C629,300.5 636,308 644,314.8C648,318 654,322.5 661,327.6C668,332 678,337.5 686.5,341.2C700,347 715,351 724.5,352L708.8,354.5C705,356 701,357.8 697.5,359.6C694,361.5 690,363 686.3,364.6C683,366 679,366.7 675,366.9C670,366.9 664,366 658,364.6C657.5,360 657,356 655.9,353.1C651,349.5 647.5,346.5 644,342.9C640.5,339 637.5,335 635.5,331C632.5,325 630.5,319.5 628.7,314C626.8,307.5 625.2,301 623.6,294.4Z" fill="url(#gDark)"/>
<path d="M623.6,294.4C625.2,301 626.8,307.5 628.7,314C630.5,319.5 632.5,325 635.5,331C637.5,335 640.5,339 644,342.9C647.5,346.5 651,349.5 655.9,353.1" stroke="#989bae" stroke-width="1.4" fill="none" filter="url(#bl3)"/>
<path d="M641,339C646,346 652,350 656,353.5C658,357 658.5,361 658,366" stroke="#a2a5be" stroke-width="3.2" fill="none" filter="url(#bl4)" opacity=".9"/>
</g>
<path d="M593.5,309.6C590,311.8 588,313.6 586.4,315.4C584.5,317.5 583.5,319.5 582.9,321.5C582.2,324.5 582,327.5 582,330.4C582,335.5 582.2,340.5 582.6,345C583.2,349 585.5,353 588,356C590.5,359 594,362 598,364.5C602,367 606,369 610,370.5C615,372.5 620,373.8 625,374.7C631,375.6 638,376.3 645,376.6C650,376.9 655,377.2 660,377.6" stroke="#9a9daf" stroke-width="1.2" fill="none"/>
<ellipse cx="672" cy="324.4" rx="4.1" ry="2.9" fill="#797b88"/><ellipse cx="672" cy="325.1" rx="3.1" ry="1.9" fill="#ecedf6"/>
<ellipse cx="682.6" cy="347.6" rx="2.7" ry="3.3" fill="#a1a4b6"/><ellipse cx="682.9" cy="347.6" rx="1.9" ry="2.6" fill="#eaebf0"/>
<ellipse cx="649.2" cy="363.5" rx="9.2" ry="6.2" fill="url(#gDrain)"/><ellipse cx="649.7" cy="366.3" rx="5.6" ry="2.5" fill="#f6f6fb"/>
</g>
</svg></body></html>
